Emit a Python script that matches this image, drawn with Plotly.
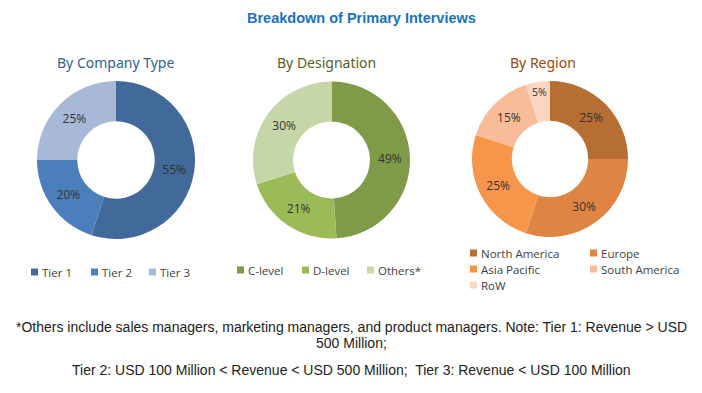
import plotly.graph_objects as go

# page body has an 8px margin; figure sized to fill the visible window
OFF = 8
W, H = 702 - OFF, 393 - OFF

company_labels = ["Tier 1", "Tier 2", "Tier 3"]
company_values = [55, 20, 25]
company_colors = ["#416999", "#4D7EBC", "#A8B9D8"]

designation_labels = ["C-level", "D-level", "Others*"]
designation_values = [49, 21, 30]
designation_colors = ["#7F9B48", "#9BBB59", "#C6D6A9"]

region_labels = ["North America", "Europe", "Asia Pacific", "South America", "RoW"]
region_values = [25, 30, 25, 15, 5]
region_colors = ["#B76E33", "#DE8543", "#F6964A", "#F8BC98", "#FAD5C1"]

title_text = "Breakdown of Primary Interviews"
subtitles = ["By Company Type", "By Designation", "By Region"]
subtitle_colors = ["#2F5F98", "#4F6228", "#984807"]
footnote_lines = [
    "*Others include sales managers, marketing managers, and product managers. Note: Tier 1: Revenue > USD",
    "500 Million;",
    "Tier 2: USD 100 Million < Revenue < USD 500 Million;  Tier 3: Revenue < USD 100 Million",
]


def px(x):
    return (x - OFF) / W


def py(y):
    return 1 - (y - OFF) / H


# pie geometry (window pixels): center x, center y, radius
pies = [
    (company_labels, company_values, company_colors, 116, 160, 79),
    (designation_labels, designation_values, designation_colors, 331.5, 160, 78.5),
    (region_labels, region_values, region_colors, 550, 159, 78),
]

fig = go.Figure()
for labels, values, colors, cx, cy, r in pies:
    fig.add_trace(go.Pie(
        labels=labels, values=values,
        marker=dict(colors=colors, line=dict(width=0)),
        hole=0.49, sort=False, direction="clockwise", rotation=0,
        textinfo="percent", textposition="inside",
        insidetextorientation="horizontal",
        textfont=dict(family="Open Sans, sans-serif", size=12, color="#333333"),
        domain=dict(x=[px(cx - r), px(cx + r)], y=[py(cy + r), py(cy - r)]),
        showlegend=False, hoverinfo="label+percent",
    ))

ann = []
shapes = []
ann.append(dict(x=px(362), y=py(18), xref="paper", yref="paper", text="<b>" + title_text + "</b>",
                showarrow=False, font=dict(family="Liberation Sans, Arial, sans-serif", size=14.5,
                                           color="#1A73BA"), xanchor="center", yanchor="middle"))
sub_x = [115, 326, 543]
for t, c, x in zip(subtitles, subtitle_colors, sub_x):
    ann.append(dict(x=px(x), y=py(62), xref="paper", yref="paper", text=t, showarrow=False,
                    font=dict(family="Noto Sans, sans-serif", size=14, color=c),
                    xanchor="center", yanchor="middle"))

# legends (square + label)
leg_items = []
for lab, col, sx in zip(company_labels, company_colors, [31, 91, 149]):
    leg_items.append((lab, col, sx, 272))
for lab, col, sx in zip(designation_labels, designation_colors, [237, 302, 367]):
    leg_items.append((lab, col, sx, 270))
reg_pos = [(470, 253), (590, 253), (470, 269), (590, 269), (470, 285)]
for lab, col, (sx, y) in zip(region_labels, region_colors, reg_pos):
    leg_items.append((lab, col, sx, y))

for lab, col, sx, y in leg_items:
    shapes.append(dict(type="rect", xref="paper", yref="paper",
                       x0=px(sx), x1=px(sx + 7), y0=py(y + 3.5), y1=py(y - 3.5),
                       fillcolor=col, line=dict(width=0)))
    ann.append(dict(x=px(sx + 9), y=py(y), xref="paper", yref="paper", text=lab, showarrow=False,
                    font=dict(family="Open Sans, sans-serif", size=11.5, color="#404040"),
                    xanchor="left", yanchor="middle"))

for t, y in zip(footnote_lines, [327, 343, 370]):
    ann.append(dict(x=px(351), y=py(y), xref="paper", yref="paper", text=t, showarrow=False,
                    font=dict(family="Liberation Sans, Arial, sans-serif", size=14, color="#222222"),
                    xanchor="center", yanchor="middle"))

fig.update_layout(width=W, height=H, margin=dict(l=0, r=0, t=0, b=0),
                  paper_bgcolor="white", plot_bgcolor="white",
                  annotations=ann, shapes=shapes)
fig.write_html("out.html")
